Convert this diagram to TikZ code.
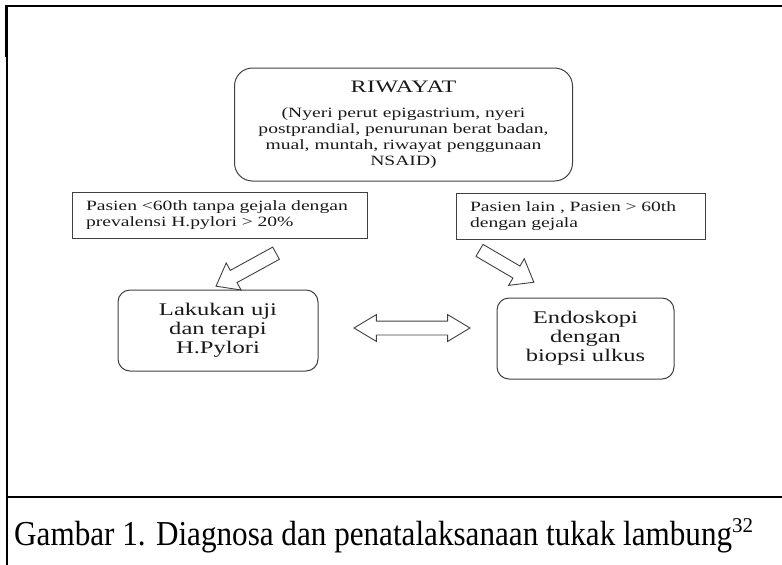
\documentclass[tikz,border=0pt]{standalone}
\usepackage{fontspec}
\setmainfont{Liberation Serif}
\newfontfamily\diagfont{Liberation Serif}[FakeStretch=1.38]
\newfontfamily\titlefont{Liberation Serif}[FakeStretch=1.38,LetterSpace=2]
\newfontfamily\capfont{Liberation Serif}[FakeStretch=0.89]
\usetikzlibrary{shapes.arrows}

\tikzset{
  histbox/.style = {draw=black!75, line width=1pt, rounded corners=18pt, minimum width=338pt, minimum height=113pt, align=center, text=black!90, font=\diagfont\fontsize{14.2}{16}\selectfont},
  condbox/.style = {draw=black!75, line width=1pt, minimum height=46pt, inner xsep=14pt, align=left, text=black!90, font=\diagfont\fontsize{14.2}{16}\selectfont},
  actbox/.style = {draw=black!75, line width=1pt, rounded corners=12pt, align=center, text=black!90, font=\diagfont\fontsize{17.8}{19}\selectfont},
  hollow/.style = {single arrow, draw=black!75, line width=0.9pt, inner xsep=0pt, inner ysep=6.5pt, single arrow head extend=8.5pt, single arrow tip angle=75},
  hollowboth/.style = {double arrow, draw=black!75, line width=0.9pt, inner xsep=0pt, inner ysep=6.5pt, double arrow head extend=6.5pt, double arrow tip angle=62}
}

\begin{document}
\begin{tikzpicture}[x=1pt, y=-1pt]
\useasboundingbox (0,0) rectangle (782,565);
% frame
\draw[line width=2.6pt] (782,6) -- (6.5,6) -- (6.5,57);
\draw[line width=1.3pt] (7,57) -- (7,392);
\draw[line width=2pt] (6.5,392) -- (6.5,565);
\draw[line width=2.2pt] (6,497) -- (782,497);

\node[histbox] (hist) at (403.5,124.5) {{\titlefont\fontsize{17.5}{18}\selectfont RIWAYAT}\\[9pt](Nyeri perut epigastrium, nyeri\\postprandial, penurunan berat badan,\\mual, muntah, riwayat penggunaan\\NSAID)};

\node[condbox, minimum width=295pt, text width=267pt] (young) at (219.5,215) {Pasien <60th tanpa gejala dengan\\prevalensi H.pylori > 20\%};
\node[condbox, minimum width=249pt, text width=221pt] (old) at (580.5,216) {Pasien lain , Pasien > 60th\\dengan gejala};

\node[actbox, minimum width=200pt, minimum height=81pt] (test) at (218,330.5) {Lakukan uji\\dan terapi\\H.Pylori};
\node[actbox, minimum width=177pt, minimum height=81pt] (endo) at (585.5,338.5) {Endoskopi\\dengan\\biopsi ulkus};

% hollow arrows
\node[hollow, minimum height=68.5pt, rotate=208.8] (toleft) at (250,267.5) {};
\node[hollow, minimum height=63pt, rotate=-30.4] (toright) at (502.75,264) {};
\node[hollowboth, minimum height=116pt] (between) at (412,328) {};

\node[anchor=base west, inner sep=0pt, font=\capfont\fontsize{35}{40}\selectfont] (caption) at (14,545) {Gambar 1. Diagnosa dan penatalaksanaan tukak lambung\raisebox{13pt}{\rmfamily\fontsize{21}{21}\selectfont 32}};
\end{tikzpicture}
\end{document}
